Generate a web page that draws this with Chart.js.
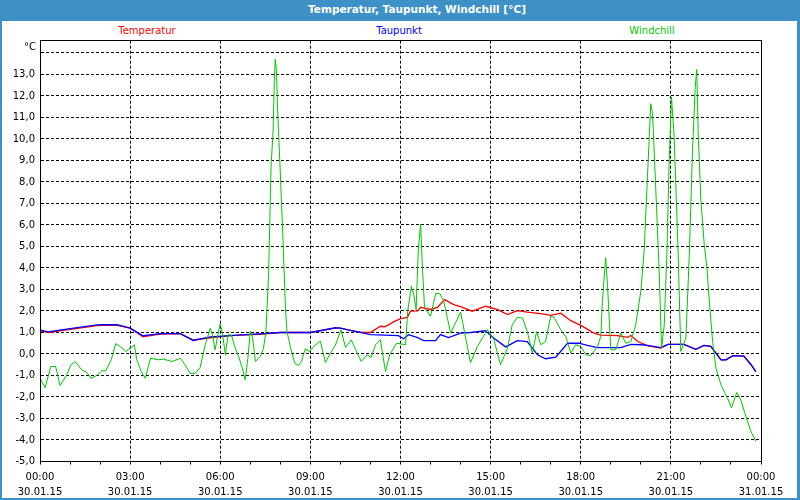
<!DOCTYPE html>
<html>
<head>
<meta charset="utf-8">
<script src="https://cdn.jsdelivr.net/npm/chart.js@4"></script>
<style>
  body { margin: 0; background: #fff; }
  #frame { position: relative; width: 800px; height: 500px; background: #3d91c6; overflow: hidden; }
  #title { position: absolute; left: 0; top: 3px; width: 800px; height: 18px; line-height: 18px;
           padding-left: 34px; box-sizing: border-box; text-align: center;
           color: #fff; font: bold 10.5px "DejaVu Sans", sans-serif; }
  #panel { position: absolute; left: 2px; top: 21px; width: 795px; height: 477px; background: #fff; }
  .leg { position: absolute; top: 25px; font: 10px "DejaVu Sans", sans-serif; transform: translateX(-50%); }
  #chartCanvas { position: absolute; left: 0; top: 0; }
</style>
</head>
<body>
<div id="frame">
  <div id="title">Temperatur, Taupunkt, Windchill [°C]</div>
  <div id="panel"></div>
  <span class="leg" style="left:147px;color:#ff0000">Temperatur</span>
  <span class="leg" style="left:399px;color:#0000ff">Taupunkt</span>
  <span class="leg" style="left:652px;color:#00cc00">Windchill</span>
  <canvas id="chartCanvas" width="800" height="500"></canvas>
</div>
<script>
// x labels (every 3 hours)
var timeLabels = ["00:00", "03:00", "06:00", "09:00", "12:00", "15:00", "18:00", "21:00", "00:00"];
var dateLabels = ["30.01.15", "30.01.15", "30.01.15", "30.01.15", "30.01.15", "30.01.15", "30.01.15", "30.01.15", "31.01.15"];
var yTicks = [-5, -4, -3, -2, -1, 0, 1, 2, 3, 4, 5, 6, 7, 8, 9, 10, 11, 12, 13, 14];

// Temperatur
var tempHours = [0, 0.27, 0.77, 1.9, 2.1, 2.57, 3.0, 3.43, 4.0, 4.67, 5.1, 5.67, 6.33, 7.43, 8.0, 9.0, 9.83, 10.0, 10.33, 10.67,
  11.0, 11.33, 11.5, 11.77, 12.0, 12.23, 12.33, 12.57, 12.67, 13.0, 13.23, 13.47, 13.77, 14.0, 14.39, 14.83, 15.22, 15.56, 15.89, 16.22,
  16.67, 17.0, 17.33, 17.67, 18.0, 18.44, 18.67, 19.22, 19.56, 19.67, 19.9, 20.23, 20.67, 20.9, 21.43, 21.83, 22.1, 22.33, 22.67, 22.83,
  23.07, 23.43, 23.67, 23.83];
var tempValues = [1.08, 1.0, 1.1, 1.32, 1.33, 1.33, 1.2, 0.8, 0.93, 0.95, 0.65, 0.75, 0.85, 0.93, 1.0, 1.0, 1.2, 1.2, 1.1, 1.0,
  1.0, 1.29, 1.27, 1.49, 1.64, 1.7, 1.99, 2.0, 2.17, 2.07, 2.17, 2.53, 2.3, 2.2, 1.99, 2.22, 2.07, 1.83, 2.02, 1.95,
  1.88, 1.8, 1.9, 1.55, 1.33, 0.97, 0.88, 0.85, 0.77, 0.86, 0.58, 0.38, 0.27, 0.45, 0.45, 0.22, 0.4, 0.35, -0.27, -0.27,
  -0.08, -0.1, -0.5, -0.82];

// Taupunkt
var dewHours = [0, 0.27, 0.77, 1.9, 2.1, 2.57, 3.0, 3.43, 4.0, 4.67, 5.1, 5.67, 6.33, 7.43, 8.0, 9.0, 9.83, 10.0, 10.33, 10.67,
  11.0, 11.93, 12.1, 12.27, 12.57, 12.77, 13.17, 13.33, 13.6, 14.0, 14.33, 14.83, 15.1, 15.5, 15.89, 16.22, 16.56, 16.83, 17.17, 17.56,
  17.94, 18.22, 18.56, 19.33, 19.67, 20.0, 20.23, 20.67, 20.9, 21.43, 21.83, 22.1, 22.33, 22.67, 22.83, 23.07, 23.43, 23.67, 23.83];
var dewValues = [1.12, 1.03, 1.13, 1.35, 1.36, 1.36, 1.2, 0.85, 0.95, 0.95, 0.63, 0.8, 0.85, 0.95, 1.0, 1.0, 1.22, 1.2, 1.1, 1.0,
  0.9, 0.85, 0.71, 0.9, 0.76, 0.62, 0.62, 0.9, 0.76, 0.97, 1.0, 1.08, 0.74, 0.33, 0.62, 0.58, -0.04, -0.22, -0.15, 0.5,
  0.5, 0.4, 0.3, 0.3, 0.45, 0.43, 0.4, 0.3, 0.45, 0.45, 0.22, 0.4, 0.35, -0.27, -0.27, -0.08, -0.1, -0.5, -0.82];

// Windchill
var chillHours = [0.03, 0.17, 0.36, 0.52, 0.67, 0.89, 1.03, 1.17, 1.39, 1.56, 1.7, 1.89, 2.06, 2.19, 2.37, 2.52, 2.67, 2.86, 3.14, 3.22,
  3.37, 3.5, 3.68, 3.94, 4.11, 4.39, 4.67, 4.83, 5.0, 5.17, 5.33, 5.5, 5.67, 5.74, 5.83, 5.92, 6.0, 6.08, 6.17, 6.26,
  6.37, 6.48, 6.61, 6.72, 6.83, 6.92, 7.0, 7.08, 7.17, 7.33, 7.44, 7.52, 7.61, 7.69, 7.76, 7.8, 7.83, 7.87, 7.91, 8.0,
  8.09, 8.17, 8.22, 8.27, 8.33, 8.48, 8.61, 8.7, 8.83, 8.98, 9.11, 9.33, 9.5, 9.67, 9.83, 10.02, 10.17, 10.36, 10.69, 10.89,
  11.02, 11.17, 11.33, 11.5, 11.64, 11.87, 12.17, 12.24, 12.36, 12.44, 12.52, 12.59, 12.67, 12.72, 12.8, 13.0, 13.17, 13.31, 13.44, 13.67,
  14.0, 14.33, 14.56, 14.89, 15.11, 15.33, 15.56, 15.72, 15.89, 16.06, 16.22, 16.39, 16.53, 16.67, 16.83, 17.0, 17.11, 17.33, 17.5, 17.67,
  17.83, 18.0, 18.17, 18.33, 18.56, 18.67, 18.72, 18.83, 18.89, 19.0, 19.17, 19.33, 19.5, 19.67, 19.83, 20.0, 20.11, 20.22, 20.33, 20.39,
  20.5, 20.61, 20.69, 20.78, 20.87, 20.94, 21.02, 21.11, 21.24, 21.33, 21.5, 21.61, 21.72, 21.81, 21.86, 21.91, 22.0, 22.11, 22.2, 22.28,
  22.39, 22.5, 22.67, 22.89, 23.02, 23.19, 23.33, 23.5, 23.67, 23.83];
var chillValues = [-1.2, -1.57, -0.58, -0.58, -1.47, -0.97, -0.5, -0.35, -0.74, -0.86, -1.13, -1.0, -0.78, -0.78, -0.27, 0.48, 0.35, 0.12, 0.43, -0.27,
  -0.82, -1.13, -0.2, -0.27, -0.24, -0.35, -0.2, -0.5, -0.9, -0.9, -0.63, 0.43, 1.2, 0.89, 0.19, 0.89, 1.39, 0.89, -0.04, 0.89,
  0.89, 0.35, -0.12, -0.58, -1.2, -0.2, 1.05, 0.74, -0.35, -0.12, 0.27, 1.05, 3.7, 8.68, 10.4, 12.73, 13.71, 13.2, 11.33, 8.37,
  5.26, 2.14, 1.05, 0.74, 0.35, -0.43, -0.54, -0.35, 0.24, 0.12, 0.35, 0.6, -0.4, 0.05, 0.4, 1.13, 0.3, 0.66, -0.35, -0.04,
  -0.16, 0.43, 0.66, -0.82, -0.04, 0.5, 0.43, 1.99, 3.15, 2.77, 2.07, 4.79, 6.04, 4.32, 2.14, 1.75, 2.81, 2.81, 2.45, 0.97,
  1.95, -0.4, 0.35, 1.13, 0.66, -0.5, 0.27, 1.36, 1.71, 1.67, 1.05, 0.04, 1.05, 0.43, 0.58, 1.75, 1.71, 1.13, 0.82, 0.04,
  0.43, 0.35, -0.04, -0.07, 0.35, 0.82, 2.45, 4.48, 3.23, 0.2, 0.2, 0.97, 0.5, 0.58, 1.36, 2.92, 4.79, 8.22, 11.64, 11.18,
  7.59, 3.86, 0.27, 1.36, 4.79, 8.84, 11.95, 10.08, 4.79, 0.12, 0.74, 4.48, 9.46, 12.42, 13.23, 10.24, 7.13, 5.1, 4.01, 2.45,
  0.58, -0.66, -1.44, -2.07, -2.5, -1.79, -2.14, -2.92, -3.62, -4.06];

function toPoints(hours, values) {
  return hours.map(function (h, i) { return { x: h, y: values[i] }; });
}

var fontSmall = { family: "DejaVu Sans", size: 10, lineHeight: 1.5 };

var frameBox = {
  id: "frameBox",
  afterDraw: function (chart) {
    var a = chart.chartArea;
    var ctx = chart.ctx;
    ctx.save();
    ctx.strokeStyle = "#000";
    ctx.lineWidth = 1;
    ctx.setLineDash([]);
    var l = Math.round(a.left) + 0.5, t = Math.floor(a.top) + 0.5;
    var r = Math.round(a.right) + 0.5, b = Math.round(a.bottom) - 0.5;
    ctx.strokeRect(l, t, r - l, b - t);
    ctx.fillStyle = "#000";
    ctx.font = "10px 'DejaVu Sans'";
    ctx.textAlign = "right";
    ctx.textBaseline = "middle";
    ctx.fillText("°C", 36, 47);
    ctx.restore();
  }
};

new Chart(document.getElementById("chartCanvas"), {
  type: "line",
  data: {
    datasets: [
      { label: "Windchill", data: toPoints(chillHours, chillValues), borderColor: "#00c800", borderWidth: 1, order: 0 },
      { label: "Taupunkt", data: toPoints(dewHours, dewValues), borderColor: "#0000ff", borderWidth: 1.3, order: 1 },
      { label: "Temperatur", data: toPoints(tempHours, tempValues), borderColor: "#ff0000", borderWidth: 1.3, order: 2 }
    ]
  },
  options: {
    responsive: false,
    animation: false,
    devicePixelRatio: 1,
    layout: { padding: { left: 0, top: 40.7, right: 39, bottom: 0 } },
    elements: { point: { radius: 0 }, line: { tension: 0 } },
    plugins: { legend: { display: false }, title: { display: false }, tooltip: { enabled: false } },
    scales: {
      x: {
        type: "linear",
        min: 0,
        max: 24,
        afterFit: function (s) { s.height = 38.5; },
        afterBuildTicks: function (s) {
          var t = [];
          for (var h = 0; h <= 24; h++) t.push({ value: h });
          s.ticks = t;
        },
        ticks: {
          autoSkip: false,
          maxRotation: 0,
          padding: 5,
          color: "#000",
          font: fontSmall,
          callback: function (v) {
            if (v % 3 !== 0) return "";
            return [timeLabels[v / 3], dateLabels[v / 3]];
          }
        },
        grid: {
          color: function (c) { return c.tick && c.tick.value % 3 === 0 ? "#000" : "rgba(0,0,0,0)"; },
          tickColor: "#000",
          tickLength: 3
        },
        border: { color: "#000", dash: [3, 2] }
      },
      y: {
        min: -5,
        max: 14.57,
        afterFit: function (s) { s.width = 40; },
        afterBuildTicks: function (s) {
          s.ticks = yTicks.map(function (v) { return { value: v }; });
        },
        ticks: {
          padding: 5,
          color: "#000",
          font: { family: "DejaVu Sans", size: 10 },
          callback: function (v) { return v === 14 ? "" : v.toFixed(1).replace(".", ","); }
        },
        grid: { color: "#000", drawTicks: false },
        border: { color: "#000", dash: [3, 2] }
      }
    }
  },
  plugins: [frameBox]
});
</script>
</body>
</html>
